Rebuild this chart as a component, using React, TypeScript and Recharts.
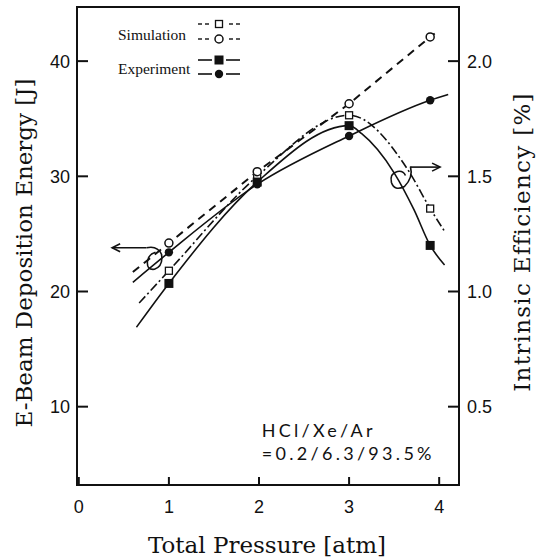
import React from 'react';
import {
  ComposedChart,
  Line,
  XAxis,
  YAxis,
  ReferenceArea,
  ReferenceDot,
  ReferenceLine,
  Legend,
  Label,
} from 'recharts';

const WIDTH = 543;
const HEIGHT = 558;

// Measured pressures [atm]
const pressureAtm = [1.0, 1.98, 3.0, 3.9];

// E-beam deposition energy [J] (left axis)
const simEnergyJ = [24.2, 30.4, 36.3, 42.1];
const expEnergyJ = [23.4, 29.3, 33.5, 36.6];

// Intrinsic efficiency [%] (right axis)
const simEfficiencyPct = [1.09, 1.5, 1.765, 1.36];
const expEfficiencyPct = [1.035, 1.475, 1.72, 1.2];

// Fitted curves through the measurements
const simEnergyCurveX = [0.6, 1.0, 1.98, 3.0, 3.9, 3.95];
const simEnergyCurveY = [21.7, 24.2, 30.4, 36.3, 42.1, 42.4];
const expEnergyCurveX = [0.6, 1.0, 1.98, 3.0, 3.9, 4.1];
const expEnergyCurveY = [20.8, 23.4, 29.3, 33.5, 36.6, 37.1];
const simEfficiencyCurveX = [0.67, 1.0, 1.98, 3.0, 3.65, 3.9, 4.07];
const simEfficiencyCurveY = [0.95, 1.09, 1.5, 1.765, 1.53, 1.36, 1.255];
const expEfficiencyCurveX = [0.64, 1.0, 1.98, 3.0, 3.14, 3.5, 3.72, 3.9, 4.06];
const expEfficiencyCurveY = [0.845, 1.035, 1.475, 1.72, 1.685, 1.515, 1.355, 1.2, 1.115];

// Axes
const pressureTicks = [0, 1, 2, 3, 4];
const energyTicks = [10, 20, 30, 40];
const efficiencyTicks = [0.5, 1.0, 1.5, 2.0];
const pressureDomain = [-0.02, 4.22];
const energyDomain = [3.2, 44.7];
const efficiencyDomain = [0.16, 2.235];

const seriesNames = ['Simulation', 'Experiment'];
const mixture = ['HCl/Xe/Ar', '=0.2/6.3/93.5%'];

const zip = (xs: number[], ys: number[]) => xs.map((x, i) => ({ x, y: ys[i] }));

const INK = '#111';
const TICK_FONT = "'Liberation Sans', Arial, sans-serif";
const TITLE_FONT = "'DejaVu Serif', serif";

// ---- markers ----
const OpenCircle = ({ cx, cy }: any) => (
  <circle cx={cx} cy={cy} r={4} fill="#fff" stroke={INK} strokeWidth={1.5} />
);
const FilledCircle = ({ cx, cy }: any) => <circle cx={cx} cy={cy} r={4.2} fill={INK} />;
const FilledSquare = ({ cx, cy }: any) => (
  <rect x={cx - 4.5} y={cy - 4.5} width={9} height={9} fill={INK} />
);
const OpenSquare = ({ cx, cy }: any) => (
  <rect x={cx - 3.5} y={cy - 3.5} width={7} height={7} fill="#fff" stroke={INK} strokeWidth={1.3} />
);

const dotOf = (Shape: any) => (p: any) => <Shape key={`d-${p.index}`} cx={p.cx} cy={p.cy} />;

// ---- ticks (drawn pointing into the plot) ----
const LeftTick = ({ x, y, payload }: any) => (
  <g>
    <line x1={x} y1={y} x2={x + 11} y2={y} stroke={INK} strokeWidth={2} />
    <text x={x - 7} y={y + 6.5} textAnchor="end" fontSize={18} fontFamily={TICK_FONT} fill={INK}>
      {payload.value}
    </text>
  </g>
);
const RightTick = ({ x, y, payload }: any) => (
  <g>
    <line x1={x} y1={y} x2={x - 11} y2={y} stroke={INK} strokeWidth={2} />
    <text x={x + 8} y={y + 6.5} textAnchor="start" fontSize={18} fontFamily={TICK_FONT} fill={INK}>
      {Number(payload.value).toFixed(1)}
    </text>
  </g>
);
const BottomTick = ({ x, y, payload }: any) => (
  <g>
    <line x1={x} y1={y} x2={x} y2={y - 8} stroke={INK} strokeWidth={2} />
    <text x={x} y={y + 28} textAnchor="middle" fontSize={18} fontFamily={TICK_FONT} fill={INK}>
      {payload.value}
    </text>
  </g>
);

// ---- axis titles ----
const BottomTitle = ({ viewBox }: any) => (
  <text
    x={viewBox.x + viewBox.width / 2 - 1}
    y={viewBox.y + 68}
    textAnchor="middle"
    fontSize={23}
    fontFamily={TITLE_FONT}
    fill={INK}
  >
    Total Pressure [atm]
  </text>
);
const LeftTitle = ({ viewBox }: any) => {
  const x = viewBox.x + 32;
  const y = 253;
  return (
    <text
      x={x}
      y={y}
      transform={`rotate(-90, ${x}, ${y})`}
      textAnchor="middle"
      fontSize={23}
      fontFamily={TITLE_FONT}
      fill={INK}
    >
      E-Beam Deposition Energy [J]
    </text>
  );
};
const RightTitle = ({ viewBox }: any) => {
  const x = viewBox.x + 71;
  const y = 242;
  return (
    <text
      x={x}
      y={y}
      transform={`rotate(-90, ${x}, ${y})`}
      textAnchor="middle"
      fontSize={23}
      letterSpacing={1.3}
      fontFamily={TITLE_FONT}
      fill={INK}
    >
      Intrinsic Efficiency [%]
    </text>
  );
};

// ---- annotations ----
const Arrow = ({ x1, y1, x2, y2 }: any) => {
  const dir = Math.sign(x2 - x1) || 1;
  return (
    <g stroke={INK} strokeWidth={1.6} fill="none">
      <line x1={x1} y1={y1} x2={x2} y2={y2} />
      <polyline points={`${x2 - dir * 8},${y2 - 4} ${x2},${y2} ${x2 - dir * 8},${y2 + 4}`} />
    </g>
  );
};
const LeftCurl = ({ cx, cy }: any) => (
  <path
    d={`M ${cx - 8} ${cy - 11.5} Q ${cx + 3} ${cy - 14} ${cx + 7} ${cy - 5} Q ${cx + 9} ${cy + 7} ${cx} ${cy + 10} Q ${cx - 8} ${cy + 11} ${cx - 7} ${cy + 2} Q ${cx - 6} ${cy - 5} ${cx + 1} ${cy - 7}`}
    fill="none"
    stroke={INK}
    strokeWidth={1.6}
  />
);
const RightCurl = ({ cx, cy }: any) => (
  <path
    d={`M ${cx + 10} ${cy - 11} Q ${cx + 13} ${cy} ${cx + 4} ${cy + 9} Q ${cx - 6} ${cy + 14} ${cx - 9} ${cy + 5} Q ${cx - 11} ${cy - 4} ${cx - 3} ${cy - 6} Q ${cx + 3} ${cy - 7} ${cx + 5} ${cy - 2}`}
    fill="none"
    stroke={INK}
    strokeWidth={1.6}
  />
);
const MixtureNote = ({ cx, cy }: any) => (
  <text fontSize={18} fontFamily="Lato, 'Open Sans', sans-serif" fill={INK} letterSpacing={3.3}>
    <tspan x={cx} y={cy}>{mixture[0]}</tspan>
    <tspan x={cx} y={cy + 23}>{mixture[1]}</tspan>
  </text>
);

// ---- legend ----
const LegendBox = () => {
  const serif = "'Liberation Serif', 'Times New Roman', serif";
  const x0 = 88;
  const x1 = 130;
  const mid = (x0 + x1) / 2;
  const shortDashes = (y: number) => (
    <g stroke={INK} strokeWidth={1.4}>
      <line x1={x0} y1={y} x2={x0 + 4} y2={y} />
      <line x1={x0 + 7} y1={y} x2={x0 + 11} y2={y} />
      <line x1={x1 - 11} y1={y} x2={x1 - 7} y2={y} />
      <line x1={x1 - 4} y1={y} x2={x1} y2={y} />
    </g>
  );
  const longDashes = (y: number) => (
    <g stroke={INK} strokeWidth={1.6}>
      <line x1={x0} y1={y} x2={x0 + 14} y2={y} />
      <line x1={x1 - 14} y1={y} x2={x1} y2={y} />
    </g>
  );
  return (
    <svg width={150} height={80} style={{ display: 'block', overflow: 'visible' }}>
      <text x={8} y={28} fontSize={15.5} fontFamily={serif} fill={INK}>
        {seriesNames[0]}
      </text>
      {shortDashes(12)}
      <OpenSquare cx={mid} cy={12} />
      {shortDashes(27)}
      <OpenCircle cx={mid} cy={27} />
      <text x={8} y={62} fontSize={15.5} fontFamily={serif} fill={INK}>
        {seriesNames[1]}
      </text>
      {longDashes(48)}
      <FilledSquare cx={mid} cy={48} />
      {longDashes(62)}
      <FilledCircle cx={mid} cy={62} />
    </svg>
  );
};

const curveProps = {
  dataKey: 'y',
  dot: false,
  activeDot: false,
  isAnimationActive: false,
  legendType: 'none' as const,
  strokeWidth: 1.6,
  stroke: INK,
};
const markerProps = {
  dataKey: 'y',
  stroke: 'none',
  activeDot: false,
  isAnimationActive: false,
  legendType: 'none' as const,
};

export default function App() {
  return (
    <div style={{ position: 'absolute', left: 0, top: 0, width: WIDTH, height: HEIGHT, background: '#fff' }}>
      <ComposedChart width={WIDTH} height={HEIGHT} margin={{ top: 7, right: 0, bottom: 0, left: 0 }}>
        <XAxis
          type="number"
          dataKey="x"
          domain={pressureDomain}
          ticks={pressureTicks}
          allowDataOverflow
          height={73}
          tickSize={0}
          tickMargin={0}
          tickLine={false}
          tick={<BottomTick />}
          axisLine={{ stroke: INK, strokeWidth: 2 }}
        >
          <Label content={<BottomTitle />} />
        </XAxis>
        <YAxis
          yAxisId="left"
          type="number"
          domain={energyDomain}
          ticks={energyTicks}
          allowDataOverflow
          width={77}
          tickSize={0}
          tickMargin={0}
          tickLine={false}
          tick={<LeftTick />}
          axisLine={{ stroke: INK, strokeWidth: 2 }}
        >
          <Label content={<LeftTitle />} />
        </YAxis>
        <YAxis
          yAxisId="right"
          orientation="right"
          type="number"
          domain={efficiencyDomain}
          ticks={efficiencyTicks}
          allowDataOverflow
          width={84}
          tickSize={0}
          tickMargin={0}
          tickLine={false}
          tick={<RightTick />}
          axisLine={{ stroke: INK, strokeWidth: 2 }}
        >
          <Label content={<RightTitle />} />
        </YAxis>

        <ReferenceArea
          yAxisId="left"
          x1={pressureDomain[0]}
          x2={pressureDomain[1]}
          y1={energyDomain[0]}
          y2={energyDomain[1]}
          fill="none"
          stroke={INK}
          strokeWidth={2}
          ifOverflow="visible"
        />

        {/* fitted curves */}
        <Line {...curveProps} yAxisId="left" type="linear" data={zip(simEnergyCurveX, simEnergyCurveY)} strokeDasharray="8 6" strokeWidth={2} />
        <Line {...curveProps} yAxisId="left" type="monotone" data={zip(expEnergyCurveX, expEnergyCurveY)} />
        <Line {...curveProps} yAxisId="right" type="monotone" data={zip(simEfficiencyCurveX, simEfficiencyCurveY)} strokeDasharray="9 3 2 3" />
        <Line {...curveProps} yAxisId="right" type="monotone" data={zip(expEfficiencyCurveX, expEfficiencyCurveY)} />

        {/* measurement markers */}
        <Line {...markerProps} yAxisId="right" data={zip(pressureAtm, simEfficiencyPct)} dot={dotOf(OpenSquare)} />
        <Line {...markerProps} yAxisId="right" data={zip(pressureAtm, expEfficiencyPct)} dot={dotOf(FilledSquare)} />
        <Line {...markerProps} yAxisId="left" data={zip(pressureAtm, expEnergyJ)} dot={dotOf(FilledCircle)} />
        <Line {...markerProps} yAxisId="left" data={zip(pressureAtm, simEnergyJ)} dot={dotOf(OpenCircle)} />

        {/* axis pointers */}
        <ReferenceLine yAxisId="left" segment={[{ x: 0.75, y: 23.8 }, { x: 0.37, y: 23.8 }]} shape={<Arrow />} />
        <ReferenceDot yAxisId="left" x={0.84} y={22.8} r={0} shape={<LeftCurl />} />
        <ReferenceLine yAxisId="left" segment={[{ x: 3.68, y: 30.8 }, { x: 4.01, y: 30.8 }]} shape={<Arrow />} />
        <ReferenceDot yAxisId="left" x={3.57} y={29.9} r={0} shape={<RightCurl />} />

        <ReferenceDot yAxisId="left" x={2.03} y={7.4} r={0} shape={<MixtureNote />} />

        <Legend
          layout="horizontal"
          verticalAlign="middle"
          align="center"
          content={<LegendBox />}
          wrapperStyle={{ position: 'absolute', left: 110, top: 12, width: 150, height: 80 }}
        />
      </ComposedChart>
    </div>
  );
}
